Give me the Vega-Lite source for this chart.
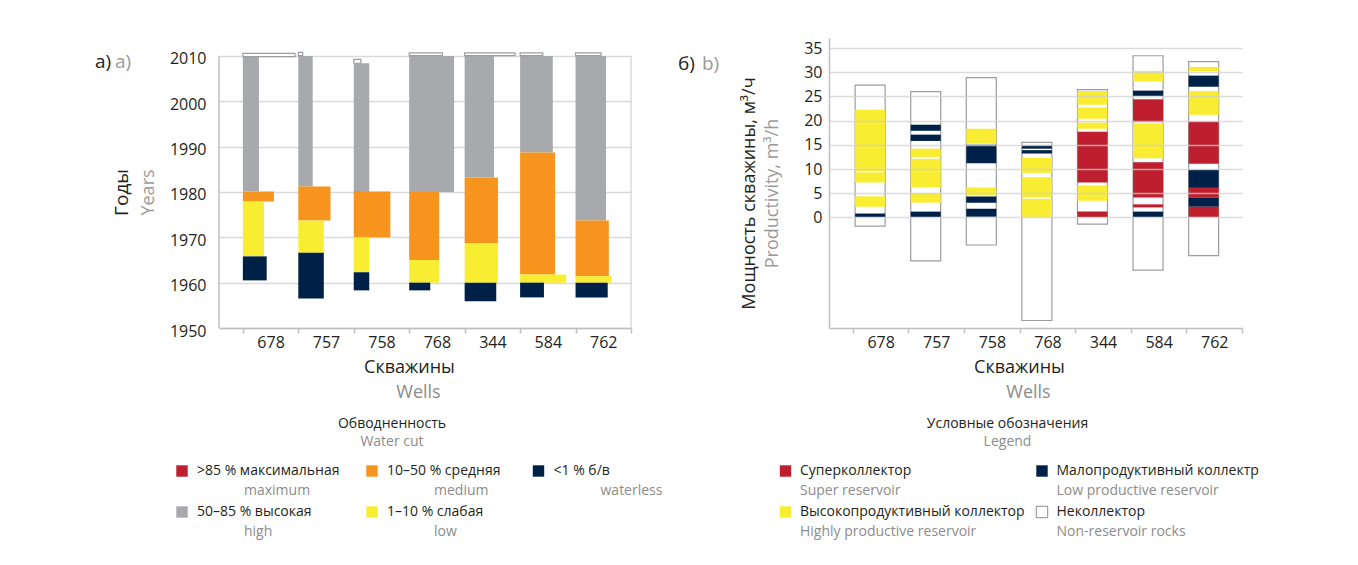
{
"$schema": "https://vega.github.io/schema/vega-lite/v6.json",
"padding": {"left": 95, "top": 38, "right": 0, "bottom": 0},
"autosize": {"type": "pad"},
"background": "white",
"config": {"font": "Open Sans", "view": {"stroke": null}, "title": {"fontWeight": "normal", "font": "Open Sans", "subtitleFont": "Open Sans"}, "axis": {"labelFont": "Open Sans", "titleFont": "Open Sans", "titleFontWeight": "normal"}},
"columns": 2,
"bounds": "flush",
"align": "each",
"spacing": {"row": 133, "column": 198},
"resolve": {"scale": {"x": "independent", "y": "independent", "color": "independent"}},
"datasets": {
"wcut": [
{"well":"678","i":0,"cat":"50–85 % высокая","w":0.29,"y0":1980.1,"y1":2010},
{"well":"678","i":0,"cat":"10–50 % средняя","w":0.56,"y0":1977.9,"y1":1980.1},
{"well":"678","i":0,"cat":"1–10 % слабая","w":0.38,"y0":1965.8,"y1":1977.9},
{"well":"678","i":0,"cat":"<1 % б/в","w":0.43,"y0":1960.5,"y1":1965.8},
{"well":"757","i":1,"cat":"50–85 % высокая","w":0.26,"y0":1981.2,"y1":2010},
{"well":"757","i":1,"cat":"10–50 % средняя","w":0.58,"y0":1973.7,"y1":1981.2},
{"well":"757","i":1,"cat":"1–10 % слабая","w":0.46,"y0":1966.6,"y1":1973.7},
{"well":"757","i":1,"cat":"<1 % б/в","w":0.46,"y0":1956.5,"y1":1966.6},
{"well":"758","i":2,"cat":"50–85 % высокая","w":0.28,"y0":1979.9,"y1":2008.4},
{"well":"758","i":2,"cat":"10–50 % средняя","w":0.66,"y0":1970.0,"y1":1980.1},
{"well":"758","i":2,"cat":"1–10 % слабая","w":0.28,"y0":1962.3,"y1":1970.0},
{"well":"758","i":2,"cat":"<1 % б/в","w":0.28,"y0":1958.3,"y1":1962.3},
{"well":"768","i":3,"cat":"50–85 % высокая","w":0.81,"y0":1980,"y1":2010},
{"well":"768","i":3,"cat":"10–50 % средняя","w":0.54,"y0":1965,"y1":1980},
{"well":"768","i":3,"cat":"1–10 % слабая","w":0.54,"y0":1960,"y1":1965},
{"well":"768","i":3,"cat":"<1 % б/в","w":0.38,"y0":1958.3,"y1":1960},
{"well":"344","i":4,"cat":"50–85 % высокая","w":0.53,"y0":1983.2,"y1":2010},
{"well":"344","i":4,"cat":"10–50 % средняя","w":0.60,"y0":1968.7,"y1":1983.2},
{"well":"344","i":4,"cat":"1–10 % слабая","w":0.60,"y0":1960,"y1":1968.7},
{"well":"344","i":4,"cat":"<1 % б/в","w":0.57,"y0":1955.9,"y1":1960},
{"well":"584","i":5,"cat":"50–85 % высокая","w":0.59,"y0":1988.7,"y1":2010},
{"well":"584","i":5,"cat":"10–50 % средняя","w":0.63,"y0":1961.8,"y1":1988.7},
{"well":"584","i":5,"cat":"1–10 % слабая","w":0.83,"y0":1960,"y1":1961.8},
{"well":"584","i":5,"cat":"<1 % б/в","w":0.43,"y0":1956.75,"y1":1960},
{"well":"762","i":6,"cat":"50–85 % высокая","w":0.55,"y0":1973.7,"y1":2010},
{"well":"762","i":6,"cat":"10–50 % средняя","w":0.60,"y0":1961.4,"y1":1973.7},
{"well":"762","i":6,"cat":"1–10 % слабая","w":0.65,"y0":1960,"y1":1961.4},
{"well":"762","i":6,"cat":"<1 % б/в","w":0.58,"y0":1956.75,"y1":1960}
],
"tops": [
{"well":"678","i":0,"w":0.94,"y0":2009.85,"y1":2010.6},
{"well":"757","i":1,"w":0.08,"y0":2010.1,"y1":2010.8},
{"well":"758","i":2,"w":0.13,"y0":2008.4,"y1":2009.25},
{"well":"768","i":3,"w":0.60,"y0":2010.1,"y1":2010.7},
{"well":"344","i":4,"w":0.91,"y0":2010.1,"y1":2010.7},
{"well":"584","i":5,"w":0.41,"y0":2010.1,"y1":2010.7},
{"well":"762","i":6,"w":0.46,"y0":2010.1,"y1":2010.7}
],
"boxes": [
{"well":"678","i":0,"lo":-1.8,"hi":27.35},
{"well":"757","i":1,"lo":-9.0,"hi":26.0},
{"well":"758","i":2,"lo":-5.7,"hi":28.9},
{"well":"768","i":3,"lo":-21.3,"hi":15.5},
{"well":"344","i":4,"lo":-1.4,"hi":26.4},
{"well":"584","i":5,"lo":-10.9,"hi":33.4},
{"well":"762","i":6,"lo":-7.9,"hi":32.2}
],
"rocks": [
{"well":"678","i":0,"rt":"Высокопродуктивный коллектор","y0":9.5,"y1":22.25},
{"well":"678","i":0,"rt":"Высокопродуктивный коллектор","y0":7.2,"y1":9.3},
{"well":"678","i":0,"rt":"Высокопродуктивный коллектор","y0":2.2,"y1":4.35},
{"well":"678","i":0,"rt":"Малопродуктивный коллектр","y0":0.1,"y1":0.8},
{"well":"757","i":1,"rt":"Малопродуктивный коллектр","y0":17.9,"y1":19.15},
{"well":"757","i":1,"rt":"Малопродуктивный коллектр","y0":15.8,"y1":17.1},
{"well":"757","i":1,"rt":"Высокопродуктивный коллектор","y0":12.5,"y1":14.2},
{"well":"757","i":1,"rt":"Высокопродуктивный коллектор","y0":6.2,"y1":12.1},
{"well":"757","i":1,"rt":"Высокопродуктивный коллектор","y0":3.05,"y1":5.05},
{"well":"757","i":1,"rt":"Малопродуктивный коллектр","y0":0.1,"y1":1.2},
{"well":"758","i":2,"rt":"Высокопродуктивный коллектор","y0":15.2,"y1":18.3},
{"well":"758","i":2,"rt":"Малопродуктивный коллектр","y0":11.2,"y1":15.0},
{"well":"758","i":2,"rt":"Высокопродуктивный коллектор","y0":4.55,"y1":6.2},
{"well":"758","i":2,"rt":"Малопродуктивный коллектр","y0":3.05,"y1":4.3},
{"well":"758","i":2,"rt":"Малопродуктивный коллектр","y0":0.15,"y1":1.8},
{"well":"768","i":3,"rt":"Малопродуктивный коллектр","y0":14.2,"y1":14.9},
{"well":"768","i":3,"rt":"Малопродуктивный коллектр","y0":13.2,"y1":13.9},
{"well":"768","i":3,"rt":"Высокопродуктивный коллектор","y0":9.2,"y1":12.3},
{"well":"768","i":3,"rt":"Высокопродуктивный коллектор","y0":4.2,"y1":8.3},
{"well":"768","i":3,"rt":"Высокопродуктивный коллектор","y0":0.1,"y1":3.85},
{"well":"344","i":4,"rt":"Высокопродуктивный коллектор","y0":23.3,"y1":26.1},
{"well":"344","i":4,"rt":"Высокопродуктивный коллектор","y0":20.4,"y1":22.7},
{"well":"344","i":4,"rt":"Высокопродуктивный коллектор","y0":18.3,"y1":19.6},
{"well":"344","i":4,"rt":"Суперколлектор","y0":7.2,"y1":17.7},
{"well":"344","i":4,"rt":"Высокопродуктивный коллектор","y0":3.45,"y1":6.6},
{"well":"344","i":4,"rt":"Суперколлектор","y0":0.1,"y1":1.2},
{"well":"584","i":5,"rt":"Высокопродуктивный коллектор","y0":28.1,"y1":30.25},
{"well":"584","i":5,"rt":"Малопродуктивный коллектр","y0":25.1,"y1":26.2},
{"well":"584","i":5,"rt":"Суперколлектор","y0":19.7,"y1":24.4},
{"well":"584","i":5,"rt":"Высокопродуктивный коллектор","y0":12.2,"y1":19.4},
{"well":"584","i":5,"rt":"Суперколлектор","y0":4.1,"y1":11.4},
{"well":"584","i":5,"rt":"Суперколлектор","y0":2.07,"y1":2.7},
{"well":"584","i":5,"rt":"Малопродуктивный коллектр","y0":0.1,"y1":1.2},
{"well":"762","i":6,"rt":"Высокопродуктивный коллектор","y0":30.2,"y1":31.1},
{"well":"762","i":6,"rt":"Малопродуктивный коллектр","y0":27.0,"y1":29.3},
{"well":"762","i":6,"rt":"Высокопродуктивный коллектор","y0":21.2,"y1":26.1},
{"well":"762","i":6,"rt":"Суперколлектор","y0":11.1,"y1":19.8},
{"well":"762","i":6,"rt":"Малопродуктивный коллектр","y0":6.1,"y1":9.85},
{"well":"762","i":6,"rt":"Суперколлектор","y0":4.1,"y1":6.1},
{"well":"762","i":6,"rt":"Малопродуктивный коллектр","y0":2.2,"y1":4.1},
{"well":"762","i":6,"rt":"Суперколлектор","y0":0.1,"y1":2.2}
],
"legA": [
{"ru":">85 % максимальная","en":"maximum","col":0,"row":0},
{"ru":"10–50 % средняя","en":"medium","col":1,"row":0},
{"ru":"<1 % б/в","en":"waterless","col":2,"row":0},
{"ru":"50–85 % высокая","en":"high","col":0,"row":1},
{"ru":"1–10 % слабая","en":"low","col":1,"row":1}
],
"legB": [
{"ru":"Суперколлектор","en":"Super reservoir","col":0,"row":0},
{"ru":"Малопродуктивный коллектр","en":"Low productive reservoir","col":1,"row":0},
{"ru":"Высокопродуктивный коллектор","en":"Highly productive reservoir","col":0,"row":1},
{"ru":"Неколлектор","en":"Non-reservoir rocks","col":1,"row":1}
]
},
"concat": [
{
 "width": 412, "height": 290,
 "resolve": {"axis": {"x": "independent", "y": "independent"}},
 "layer": [
  {"data": {"name": "wcut"},
   "transform": [{"calculate": "datum.i + datum.w", "as": "xe"}],
   "mark": {"type": "rect"},
   "encoding": {
    "x": {"field": "i", "type": "quantitative", "scale": {"domain": [-0.43, 7], "nice": false, "zero": false},
      "axis": {"orient": "bottom", "values": [0,0.5,1,1.5,2,2.5,3,3.5,4,4.5,5,5.5,6,6.5,7],
        "labelExpr": "datum.value % 1 === 0.5 ? ['678','757','758','768','344','584','762'][floor(datum.value)] : ''",
        "tickOpacity": {"condition": {"test": "datum.value % 1 === 0", "value": 1}, "value": 0},
        "tickSize": 5, "tickColor": "#bfbfbf", "tickWidth": 1.5, "domainColor": "#bfbfbf", "domainWidth": 1.5,
        "labelFontSize": 16, "labelColor": "#231f20", "labelPadding": 1, "labelOverlap": false, "labelFlush": false,
        "grid": false, "title": "Скважины", "titleFontSize": 18, "titleColor": "#231f20", "titlePadding": 8, "titleX": 190}},
    "x2": {"field": "xe"},
    "y": {"field": "y0", "type": "quantitative", "scale": {"domain": [1950, 2013.97], "nice": false, "zero": false},
      "axis": {"orient": "left", "values": [1950,1960,1970,1980,1990,2000,2010], "format": "d", "grid": true, "gridColor": "#d9d9d9", "gridWidth": 1.5,
        "ticks": false, "domain": false, "labelPadding": 13, "labelFontSize": 16, "labelColor": "#231f20", "labelOffset": 3,
        "title": "Years", "titleColor": "#9a9a9a", "titleFontSize": 18, "titlePadding": 12, "titleY": 154}},
    "y2": {"field": "y1"},
    "color": {"field": "cat", "type": "nominal", "legend": null,
      "scale": {"domain": [">85 % максимальная","50–85 % высокая","10–50 % средняя","1–10 % слабая","<1 % б/в"],
                "range": ["#be1e2d","#a7a9ac","#f7941d","#f9ed32","#002147"]}}
   }},
  {"data": {"name": "tops"},
   "transform": [{"calculate": "datum.i + datum.w", "as": "xe"}],
   "mark": {"type": "rect", "fill": "white", "stroke": "#9d9d9d", "strokeWidth": 1.2},
   "encoding": {
    "x": {"field": "i", "type": "quantitative",
      "axis": {"orient": "bottom", "labels": false, "ticks": false, "domain": false, "grid": false, "title": "Wells", "titleColor": "#8c8c8c", "titleFontSize": 18, "titlePadding": 55, "titleX": 199}},
    "x2": {"field": "xe"},
    "y": {"field": "y0", "type": "quantitative",
      "axis": {"orient": "left", "labels": false, "ticks": false, "domain": false, "grid": false, "title": "Годы", "titleColor": "#231f20", "titleFontSize": 19, "titlePadding": 88, "titleY": 154}},
    "y2": {"field": "y1"}
   }},
  {"data": {"values": [{}]},
   "mark": {"type": "rule", "color": "#bfbfbf", "strokeWidth": 1.5},
   "encoding": {"x": {"datum": -0.43, "type": "quantitative", "axis": null}, "y": {"datum": 1950, "type": "quantitative", "axis": null}, "y2": {"datum": 2010}}},
  {"data": {"values": [{}]},
   "mark": {"type": "rule", "color": "#d0d0d0", "strokeWidth": 1.2},
   "encoding": {"x": {"datum": 7, "type": "quantitative", "axis": null}, "y": {"datum": 1950, "type": "quantitative", "axis": null}, "y2": {"datum": 2010}}},
  {"data": {"values": [{"t": "а)"}]},
   "mark": {"type": "text", "align": "left", "baseline": "middle", "dx": -124, "dy": 6, "fontSize": 19, "color": "#231f20"},
   "encoding": {"x": {"datum": -0.43, "type": "quantitative", "axis": null}, "y": {"datum": 2010, "type": "quantitative", "axis": null}, "text": {"field": "t"}}},
  {"data": {"values": [{"t": "a)"}]},
   "mark": {"type": "text", "align": "left", "baseline": "middle", "dx": -104, "dy": 6, "fontSize": 19, "color": "#9a9a9a"},
   "encoding": {"x": {"datum": -0.43, "type": "quantitative", "axis": null}, "y": {"datum": 2010, "type": "quantitative", "axis": null}, "text": {"field": "t"}}}
 ]
},
{
 "width": 413, "height": 290,
 "resolve": {"axis": {"x": "independent", "y": "independent"}},
 "layer": [
  {"data": {"name": "boxes"},
   "transform": [{"calculate": "datum.i + 0.04", "as": "xs"}, {"calculate": "datum.i + 0.58", "as": "xe"}],
   "mark": {"type": "rect", "fill": "white", "stroke": "#9d9d9d", "strokeWidth": 1.2},
   "encoding": {
    "x": {"field": "xs", "type": "quantitative", "scale": {"domain": [-0.43, 7], "nice": false, "zero": false},
      "axis": {"orient": "bottom", "values": [0,0.5,1,1.5,2,2.5,3,3.5,4,4.5,5,5.5,6,6.5,7],
        "labelExpr": "datum.value % 1 === 0.5 ? ['678','757','758','768','344','584','762'][floor(datum.value)] : ''",
        "tickOpacity": {"condition": {"test": "datum.value % 1 === 0", "value": 1}, "value": 0},
        "tickSize": 5, "tickColor": "#bfbfbf", "tickWidth": 1.5, "domainColor": "#bfbfbf", "domainWidth": 1.5,
        "labelFontSize": 16, "labelColor": "#231f20", "labelPadding": 1, "labelOverlap": false, "labelFlush": false,
        "grid": false, "title": "Скважины", "titleFontSize": 18, "titleColor": "#231f20", "titlePadding": 8, "titleX": 190}},
    "x2": {"field": "xe"},
    "y": {"field": "lo", "type": "quantitative", "scale": {"domain": [-22.85, 37.07], "nice": false, "zero": false},
      "axis": {"orient": "left", "values": [0,5,10,15,20,25,30,35], "grid": true, "gridColor": "#cfcfcf", "gridWidth": 1.5, "gridOpacity": 0.75, "zindex": 1,
        "ticks": false, "domain": true, "domainColor": "#bfbfbf", "domainWidth": 1.5, "labelPadding": 7, "labelFontSize": 16, "labelColor": "#231f20",
        "title": "Productivity, m³/h", "titleColor": "#9a9a9a", "titleFontSize": 18, "titlePadding": 22, "titleY": 155}},
    "y2": {"field": "hi"}
   }},
  {"data": {"name": "rocks"},
   "transform": [{"calculate": "datum.i + 0.04", "as": "xs"}, {"calculate": "datum.i + 0.58", "as": "xe"}],
   "mark": {"type": "rect"},
   "encoding": {
    "x": {"field": "xs", "type": "quantitative",
      "axis": {"orient": "bottom", "labels": false, "ticks": false, "domain": false, "grid": false, "title": "Wells", "titleColor": "#8c8c8c", "titleFontSize": 18, "titlePadding": 55, "titleX": 199}},
    "x2": {"field": "xe"},
    "y": {"field": "y0", "type": "quantitative",
      "axis": {"orient": "left", "labels": false, "ticks": false, "domain": false, "grid": false, "title": "Мощность скважины, м³/ч", "titleColor": "#231f20", "titleFontSize": 18, "titlePadding": 71, "titleY": 155}},
    "y2": {"field": "y1"},
    "color": {"field": "rt", "type": "nominal", "legend": null,
      "scale": {"domain": ["Суперколлектор","Высокопродуктивный коллектор","Малопродуктивный коллектр","Неколлектор"],
                "range": ["#be1e2d","#f9ed32","#002147","#ffffff"]}}
   }},
  {"data": {"values": [{"t": "б)"}]},
   "mark": {"type": "text", "align": "left", "baseline": "middle", "dx": -151, "dy": -8, "fontSize": 19, "color": "#231f20"},
   "encoding": {"x": {"datum": -0.43, "type": "quantitative", "axis": null}, "y": {"datum": 30, "type": "quantitative", "axis": null}, "text": {"field": "t"}}},
  {"data": {"values": [{"t": "b)"}]},
   "mark": {"type": "text", "align": "left", "baseline": "middle", "dx": -127, "dy": -8, "fontSize": 19, "color": "#9a9a9a"},
   "encoding": {"x": {"datum": -0.43, "type": "quantitative", "axis": null}, "y": {"datum": 30, "type": "quantitative", "axis": null}, "text": {"field": "t"}}}
 ]
},
{
 "width": 346, "height": 80,
 "data": {"name": "legA"},
 "title": {"text": "Обводненность", "subtitle": "Water cut", "orient": "top", "anchor": "middle", "frame": "group", "fontSize": 14, "subtitleFontSize": 14, "color": "#231f20", "subtitleColor": "#8c8c8c", "offset": 12, "subtitlePadding": 4},
 "encoding": {
  "x": {"field": "col", "type": "quantitative", "scale": {"domain": [0,1,2], "range": [-37,153,319.5], "nice": false, "zero": false}, "axis": null},
  "y": {"field": "row", "type": "quantitative", "scale": {"domain": [0,1], "range": [10,51], "nice": false, "zero": false}, "axis": null}
 },
 "layer": [
  {"mark": {"type": "point", "shape": "square", "filled": true, "size": 130, "opacity": 1},
   "encoding": {"color": {"field": "ru", "type": "nominal", "legend": null,
      "scale": {"domain": [">85 % максимальная","50–85 % высокая","10–50 % средняя","1–10 % слабая","<1 % б/в"],
                "range": ["#be1e2d","#a7a9ac","#f7941d","#f9ed32","#002147"]}}}},
  {"mark": {"type": "text", "align": "left", "baseline": "middle", "dx": 15, "fontSize": 14, "color": "#231f20"},
   "encoding": {"text": {"field": "ru"}}},
  {"mark": {"type": "text", "align": "left", "baseline": "middle", "dx": 62, "dy": 20, "fontSize": 14, "color": "#8c8c8c"},
   "encoding": {"text": {"field": "en"}}}
 ]
},
{
 "width": 357, "height": 80,
 "data": {"name": "legB"},
 "title": {"text": "Условные обозначения", "subtitle": "Legend", "orient": "top", "anchor": "middle", "frame": "group", "fontSize": 14, "subtitleFontSize": 14, "color": "#231f20", "subtitleColor": "#8c8c8c", "offset": 12, "subtitlePadding": 4},
 "encoding": {
  "x": {"field": "col", "type": "quantitative", "scale": {"domain": [0,1], "range": [-43.5,213], "nice": false, "zero": false}, "axis": null},
  "y": {"field": "row", "type": "quantitative", "scale": {"domain": [0,1], "range": [10,51], "nice": false, "zero": false}, "axis": null}
 },
 "layer": [
  {"mark": {"type": "point", "shape": "square", "filled": true, "size": 130, "opacity": 1, "strokeWidth": 1},
   "encoding": {"color": {"field": "ru", "type": "nominal", "legend": null,
      "scale": {"domain": ["Суперколлектор","Высокопродуктивный коллектор","Малопродуктивный коллектр","Неколлектор"],
                "range": ["#be1e2d","#f9ed32","#002147","#ffffff"]}},
     "stroke": {"condition": {"test": "datum.ru === 'Неколлектор'", "value": "#8c8c8c"}, "value": "transparent"}}},
  {"mark": {"type": "text", "align": "left", "baseline": "middle", "dx": 14.5, "fontSize": 14, "color": "#231f20"},
   "encoding": {"text": {"field": "ru"}}},
  {"mark": {"type": "text", "align": "left", "baseline": "middle", "dx": 14.5, "dy": 20, "fontSize": 14, "color": "#8c8c8c"},
   "encoding": {"text": {"field": "en"}}}
 ]
}
]
}
